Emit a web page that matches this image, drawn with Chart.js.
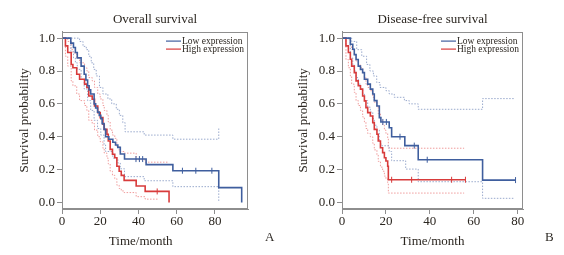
<!DOCTYPE html>
<html><head><meta charset="utf-8">
<script src="https://cdn.jsdelivr.net/npm/chart.js@4.4.1/dist/chart.umd.min.js"></script>
<style>
html,body{margin:0;padding:0;background:#fff;}
body{width:564px;height:255px;position:relative;overflow:hidden;font-family:'Liberation Serif',serif;}
.c{position:absolute;top:0;width:282px;height:255px;}
.lab{position:absolute;font-size:13px;color:#2e2a25;line-height:1;}
</style></head><body>
<div class="c" style="left:0"><canvas id="os" width="282" height="255"></canvas></div>
<div class="c" style="left:282px"><canvas id="dfs" width="282" height="255"></canvas></div>
<div class="lab" id="labA" style="left:265px;top:230px"></div>
<div class="lab" id="labB" style="left:545px;top:230px"></div>
<script>
// ---------- text ----------
const panelLabels = ['A', 'B'];
const chartTitles = ['Overall survival', 'Disease-free survival'];
const legendLabels = ['Low expression', 'High expression'];
const xAxisTitle = 'Time/month';
const yAxisTitle = 'Survival probability';
const xTicks = [0, 20, 40, 60, 80];
const yTicks = [0, 0.2, 0.4, 0.6, 0.8, 1.0];

// ---------- Overall survival (A) ----------
const osLowTime = [0, 4.6, 6, 7, 8, 10, 11.6, 12.5, 13.4, 14.2, 15, 16.8, 17.6, 18.6, 19.5, 20.3, 21, 22, 22.8, 24.5, 26.6, 28, 29.2, 30.5, 32.7, 44, 58, 82, 94];
const osLowSurv = [1, 0.97, 0.943, 0.913, 0.88, 0.83, 0.78, 0.745, 0.71, 0.685, 0.66, 0.60, 0.575, 0.55, 0.53, 0.51, 0.48, 0.445, 0.40, 0.385, 0.366, 0.35, 0.335, 0.295, 0.264, 0.23, 0.193, 0.09, 0];
const osLowCensor = [38.7, 40.5, 42.2, 63, 70, 78.4];
const osHighTime = [0, 1.8, 3, 4.8, 5.7, 7.7, 9.2, 11.8, 13, 14, 15.8, 17, 18.7, 20, 21.4, 22.1, 23.5, 24.2, 25.2, 26.4, 27.6, 28.7, 29.9, 31, 32.5, 38.8, 43.5, 56];
const osHighSurv = [1, 0.953, 0.913, 0.84, 0.82, 0.78, 0.75, 0.72, 0.70, 0.648, 0.628, 0.587, 0.547, 0.516, 0.476, 0.445, 0.415, 0.374, 0.323, 0.293, 0.272, 0.22, 0.19, 0.165, 0.134, 0.10, 0.067, 0];
const osHighCensor = [49.8];
const osLowUpperTime = [0, 9.2, 11, 12.7, 14, 15.3, 16.6, 17.9, 19.6, 21.4, 24, 26, 28.4, 30, 31.8, 33, 43, 58, 82];
const osLowUpper = [1, 0.98, 0.95, 0.93, 0.89, 0.85, 0.81, 0.77, 0.70, 0.66, 0.63, 0.60, 0.567, 0.53, 0.486, 0.43, 0.41, 0.385, 0.45];
const osLowLowerTime = [0, 4.6, 6, 7, 8, 10, 11.6, 13.4, 15, 16.8, 18.6, 20.3, 22, 22.8, 26.6, 29.2, 30.5, 32.7, 43, 58, 82];
const osLowLower = [1, 0.92, 0.88, 0.85, 0.81, 0.75, 0.69, 0.62, 0.56, 0.50, 0.45, 0.41, 0.35, 0.31, 0.27, 0.24, 0.205, 0.157, 0.132, 0.096, 0];
const osHighUpperTime = [0, 3, 4.8, 5.7, 7.7, 9.2, 11.8, 13, 14, 15.8, 17, 18.7, 20, 21.4, 22.1, 23.5, 24.2, 25.2, 26.4, 27.6, 28.7, 29.9, 32.5, 38.8, 43.5, 56];
const osHighUpper = [1, 0.98, 0.93, 0.91, 0.88, 0.85, 0.82, 0.80, 0.76, 0.74, 0.70, 0.66, 0.63, 0.59, 0.56, 0.53, 0.49, 0.44, 0.41, 0.39, 0.34, 0.31, 0.30, 0.26, 0.245, 0.245];
const osHighLowerTime = [0, 1.8, 3, 4.8, 5.7, 7.7, 9.2, 11.8, 13, 14, 15.8, 17, 18.7, 20, 21.4, 22.1, 23.5, 24.2, 25.2, 26.4, 27.6, 28.7, 29.9, 31, 32.5, 38.8, 43.5, 50];
const osHighLower = [1, 0.89, 0.83, 0.74, 0.71, 0.66, 0.62, 0.59, 0.56, 0.50, 0.48, 0.44, 0.40, 0.37, 0.33, 0.30, 0.27, 0.235, 0.19, 0.165, 0.145, 0.105, 0.085, 0.07, 0.06, 0.035, 0.02, 0.02];

// ---------- Disease-free survival (B) ----------
const dfsLowTime = [0, 3.8, 4.9, 5.6, 6.4, 7.4, 8.4, 9.4, 10.2, 11.7, 12.9, 14, 14.7, 15.9, 17, 17.7, 21.5, 22.6, 28.6, 34.7, 64, 79];
const dfsLowSurv = [1, 0.963, 0.933, 0.90, 0.87, 0.83, 0.81, 0.79, 0.75, 0.72, 0.69, 0.66, 0.62, 0.587, 0.516, 0.49, 0.455, 0.40, 0.346, 0.26, 0.136, 0.136];
const dfsLowCensor = [18.6, 20.2, 26.4, 32.9, 38.8, 79];
const dfsHighTime = [0, 1.8, 2.9, 3.8, 4.4, 5.6, 6.4, 7.4, 8.4, 9.4, 10.2, 10.9, 11.7, 12.9, 14, 14.7, 15.9, 16.5, 17.5, 18.5, 19.3, 20, 20.8, 21.1, 56.2];
const dfsHighSurv = [1, 0.953, 0.913, 0.872, 0.83, 0.79, 0.74, 0.71, 0.69, 0.648, 0.618, 0.577, 0.547, 0.526, 0.486, 0.445, 0.415, 0.374, 0.333, 0.303, 0.272, 0.252, 0.22, 0.138, 0.138];
const dfsHighCensor = [22.6, 31.7, 49.9, 56.2];
const dfsLowUpperTime = [0, 4.4, 6.7, 9, 11.2, 12.7, 14.3, 15.8, 17.3, 20, 21.5, 23.8, 28.4, 30.6, 34.7, 64, 78.6];
const dfsLowUpper = [1, 0.98, 0.93, 0.89, 0.84, 0.80, 0.77, 0.73, 0.70, 0.68, 0.66, 0.64, 0.62, 0.60, 0.567, 0.632, 0.632];
const dfsLowLowerTime = [0, 3.8, 4.9, 5.6, 6.4, 7.4, 8.4, 9.4, 10.2, 11.7, 12.9, 14, 14.7, 15.9, 17, 17.7, 21.5, 22.6, 29, 34.7, 64, 78.6];
const dfsLowLower = [1, 0.88, 0.84, 0.80, 0.76, 0.72, 0.69, 0.66, 0.62, 0.58, 0.55, 0.51, 0.47, 0.44, 0.37, 0.345, 0.31, 0.254, 0.203, 0.126, 0.025, 0.025];
const dfsHighUpperTime = [0, 2.9, 3.8, 4.4, 5.6, 6.4, 7.4, 8.4, 9.4, 10.2, 10.9, 11.7, 12.9, 14, 14.7, 15.9, 16.5, 17.5, 18.5, 19.3, 20, 20.8, 21.1, 55.6];
const dfsHighUpper = [1, 0.99, 0.96, 0.93, 0.90, 0.86, 0.84, 0.82, 0.79, 0.76, 0.72, 0.70, 0.68, 0.64, 0.61, 0.58, 0.54, 0.50, 0.47, 0.44, 0.42, 0.39, 0.33, 0.33];
const dfsHighLowerTime = [0, 1.8, 2.9, 3.8, 4.4, 5.6, 6.4, 7.4, 8.4, 9.4, 10.2, 10.9, 11.7, 12.9, 14, 14.7, 15.9, 16.5, 17.5, 18.5, 19.3, 20, 20.8, 21.1, 55.6];
const dfsHighLower = [1, 0.87, 0.82, 0.77, 0.72, 0.67, 0.62, 0.59, 0.56, 0.52, 0.49, 0.45, 0.42, 0.40, 0.36, 0.32, 0.29, 0.25, 0.215, 0.19, 0.16, 0.145, 0.12, 0.057, 0.057];

// ---------- styles ----------
const TEXT = '#2b2620';
const AXIS = '#8e8e8e';
const BLUE = '#3f5e9e';
const RED = '#d83b3b';
const BLUE_CI = '#9aaacd';
const RED_CI = '#ef9c9c';
const FONT = "'Liberation Serif', 'Times New Roman', serif";

Chart.defaults.font.family = FONT;
Chart.defaults.color = TEXT;

document.getElementById('labA').textContent = panelLabels[0];
document.getElementById('labB').textContent = panelLabels[1];

function pts(ts, vs) { return ts.map((t, i) => ({ x: t, y: vs[i] })); }
function stepAt(ts, vs, t) { let v = vs[0]; for (let i = 0; i < ts.length; i++) { if (ts[i] <= t) v = vs[i]; } return v; }
function censorPts(ts, vs, cs) { return cs.map(c => ({ x: c, y: stepAt(ts, vs, c) })); }

const framePlugin = {
  id: 'frame',
  afterDraw(chart) {
    const { ctx, chartArea: a } = chart;
    ctx.save();
    ctx.strokeStyle = AXIS; ctx.lineWidth = 1;
    ctx.strokeRect(Math.round(a.left) + 0.5, Math.round(a.top) + 0.5, Math.round(a.right - a.left) - 1, Math.round(a.bottom - a.top) - 1);
    ctx.restore();
  }
};
const kmLegend = {
  id: 'kmLegend',
  afterDraw(chart, args, opts) {
    const { ctx, chartArea: a } = chart;
    ctx.save();
    ctx.font = '9.5px ' + FONT;
    const w = Math.max(...opts.items.map(it => ctx.measureText(it.text).width));
    const tx = a.right - 4 - w;
    opts.items.forEach((it, i) => {
      const y = a.top + 9 + i * 8;
      ctx.strokeStyle = it.color; ctx.lineWidth = 1.2;
      ctx.beginPath(); ctx.moveTo(tx - 16, y + 0.5); ctx.lineTo(tx - 1, y + 0.5); ctx.stroke();
      ctx.fillStyle = TEXT; ctx.textBaseline = 'middle'; ctx.textAlign = 'left';
      ctx.fillText(it.text, tx, y + 1);
    });
    ctx.restore();
  }
};

function mainDs(label, ts, vs, color) {
  return { label, data: pts(ts, vs), borderColor: color, borderWidth: 1.6, stepped: 'before', pointRadius: 0, fill: false };
}
function censDs(label, ts, vs, cs, color) {
  return { label, data: censorPts(ts, vs, cs), showLine: false, pointStyle: 'line', rotation: 90, pointRadius: 3, borderColor: color, borderWidth: 1, pointBorderWidth: 1 };
}
function ciDs(label, ts, vs, color) {
  return { label, data: pts(ts, vs), borderColor: color, borderWidth: 1, borderDash: [1.5, 1.5], stepped: 'before', pointRadius: 0, fill: false };
}

function makeChart(id, p) {
  return new Chart(document.getElementById(id), {
    type: 'line',
    data: { datasets: p.datasets },
    options: {
      responsive: false, animation: false, devicePixelRatio: 1,
      layout: { padding: { left: 0, right: p.padRight, top: 0, bottom: 0 } },
      plugins: {
        legend: { display: false }, tooltip: { enabled: false },
        title: { display: true, text: p.title, fullSize: false, color: TEXT, font: { size: 13, weight: 'normal' }, padding: { top: 12, bottom: 4 } },
        kmLegend: { items: [{ text: legendLabels[0], color: BLUE }, { text: legendLabels[1], color: RED }] }
      },
      scales: {
        x: {
          type: 'linear', min: 0, max: p.xMax,
          afterBuildTicks: s => { s.ticks = xTicks.map(v => ({ value: v })); },
          afterFit: s => { s.height = 46; },
          grid: { drawOnChartArea: false, tickLength: 5, color: AXIS },
          border: { color: AXIS },
          ticks: { color: TEXT, font: { size: 13 }, padding: 0, maxRotation: 0 },
          title: { display: true, text: p.xTitle, color: TEXT, font: { size: 13 }, padding: { top: 0, bottom: 6 } }
        },
        y: {
          type: 'linear', min: -0.04, max: 1.04,
          afterBuildTicks: s => { s.ticks = yTicks.map(v => ({ value: v })); },
          afterFit: s => { s.width = p.yWidth; },
          grid: { drawOnChartArea: false, tickLength: 5, color: AXIS },
          border: { color: AXIS },
          ticks: { color: TEXT, font: { size: 13 }, padding: 2, callback: v => Number(v).toFixed(1) },
          title: { display: true, text: yAxisTitle, color: TEXT, font: { size: 13 }, padding: { top: p.yTitlePad, bottom: 0 } }
        }
      }
    },
    plugins: [framePlugin, kmLegend]
  });
}

makeChart('os', {
  title: chartTitles[0], xMax: 97.3, padRight: 34, yWidth: 62, yTitlePad: 17,
  xTitle: xAxisTitle + '\u2003\u2003\u2009',
  datasets: [
    mainDs(legendLabels[0], osLowTime, osLowSurv, BLUE),
    mainDs(legendLabels[1], osHighTime, osHighSurv, RED),
    censDs('Low censored', osLowTime, osLowSurv, osLowCensor, BLUE),
    censDs('High censored', osHighTime, osHighSurv, osHighCensor, RED),
    ciDs('Low upper CI', osLowUpperTime, osLowUpper, BLUE_CI),
    ciDs('Low lower CI', osLowLowerTime, osLowLower, BLUE_CI),
    ciDs('High upper CI', osHighUpperTime, osHighUpper, RED_CI),
    ciDs('High lower CI', osHighLowerTime, osHighLower, RED_CI)
  ]
});
makeChart('dfs', {
  title: chartTitles[1], xMax: 82.4, padRight: 41, yWidth: 60, yTitlePad: 14,
  xTitle: xAxisTitle,
  datasets: [
    mainDs(legendLabels[0], dfsLowTime, dfsLowSurv, BLUE),
    mainDs(legendLabels[1], dfsHighTime, dfsHighSurv, RED),
    censDs('Low censored', dfsLowTime, dfsLowSurv, dfsLowCensor, BLUE),
    censDs('High censored', dfsHighTime, dfsHighSurv, dfsHighCensor, RED),
    ciDs('Low upper CI', dfsLowUpperTime, dfsLowUpper, BLUE_CI),
    ciDs('Low lower CI', dfsLowLowerTime, dfsLowLower, BLUE_CI),
    ciDs('High upper CI', dfsHighUpperTime, dfsHighUpper, RED_CI),
    ciDs('High lower CI', dfsHighLowerTime, dfsHighLower, RED_CI)
  ]
});
</script>
</body></html>
